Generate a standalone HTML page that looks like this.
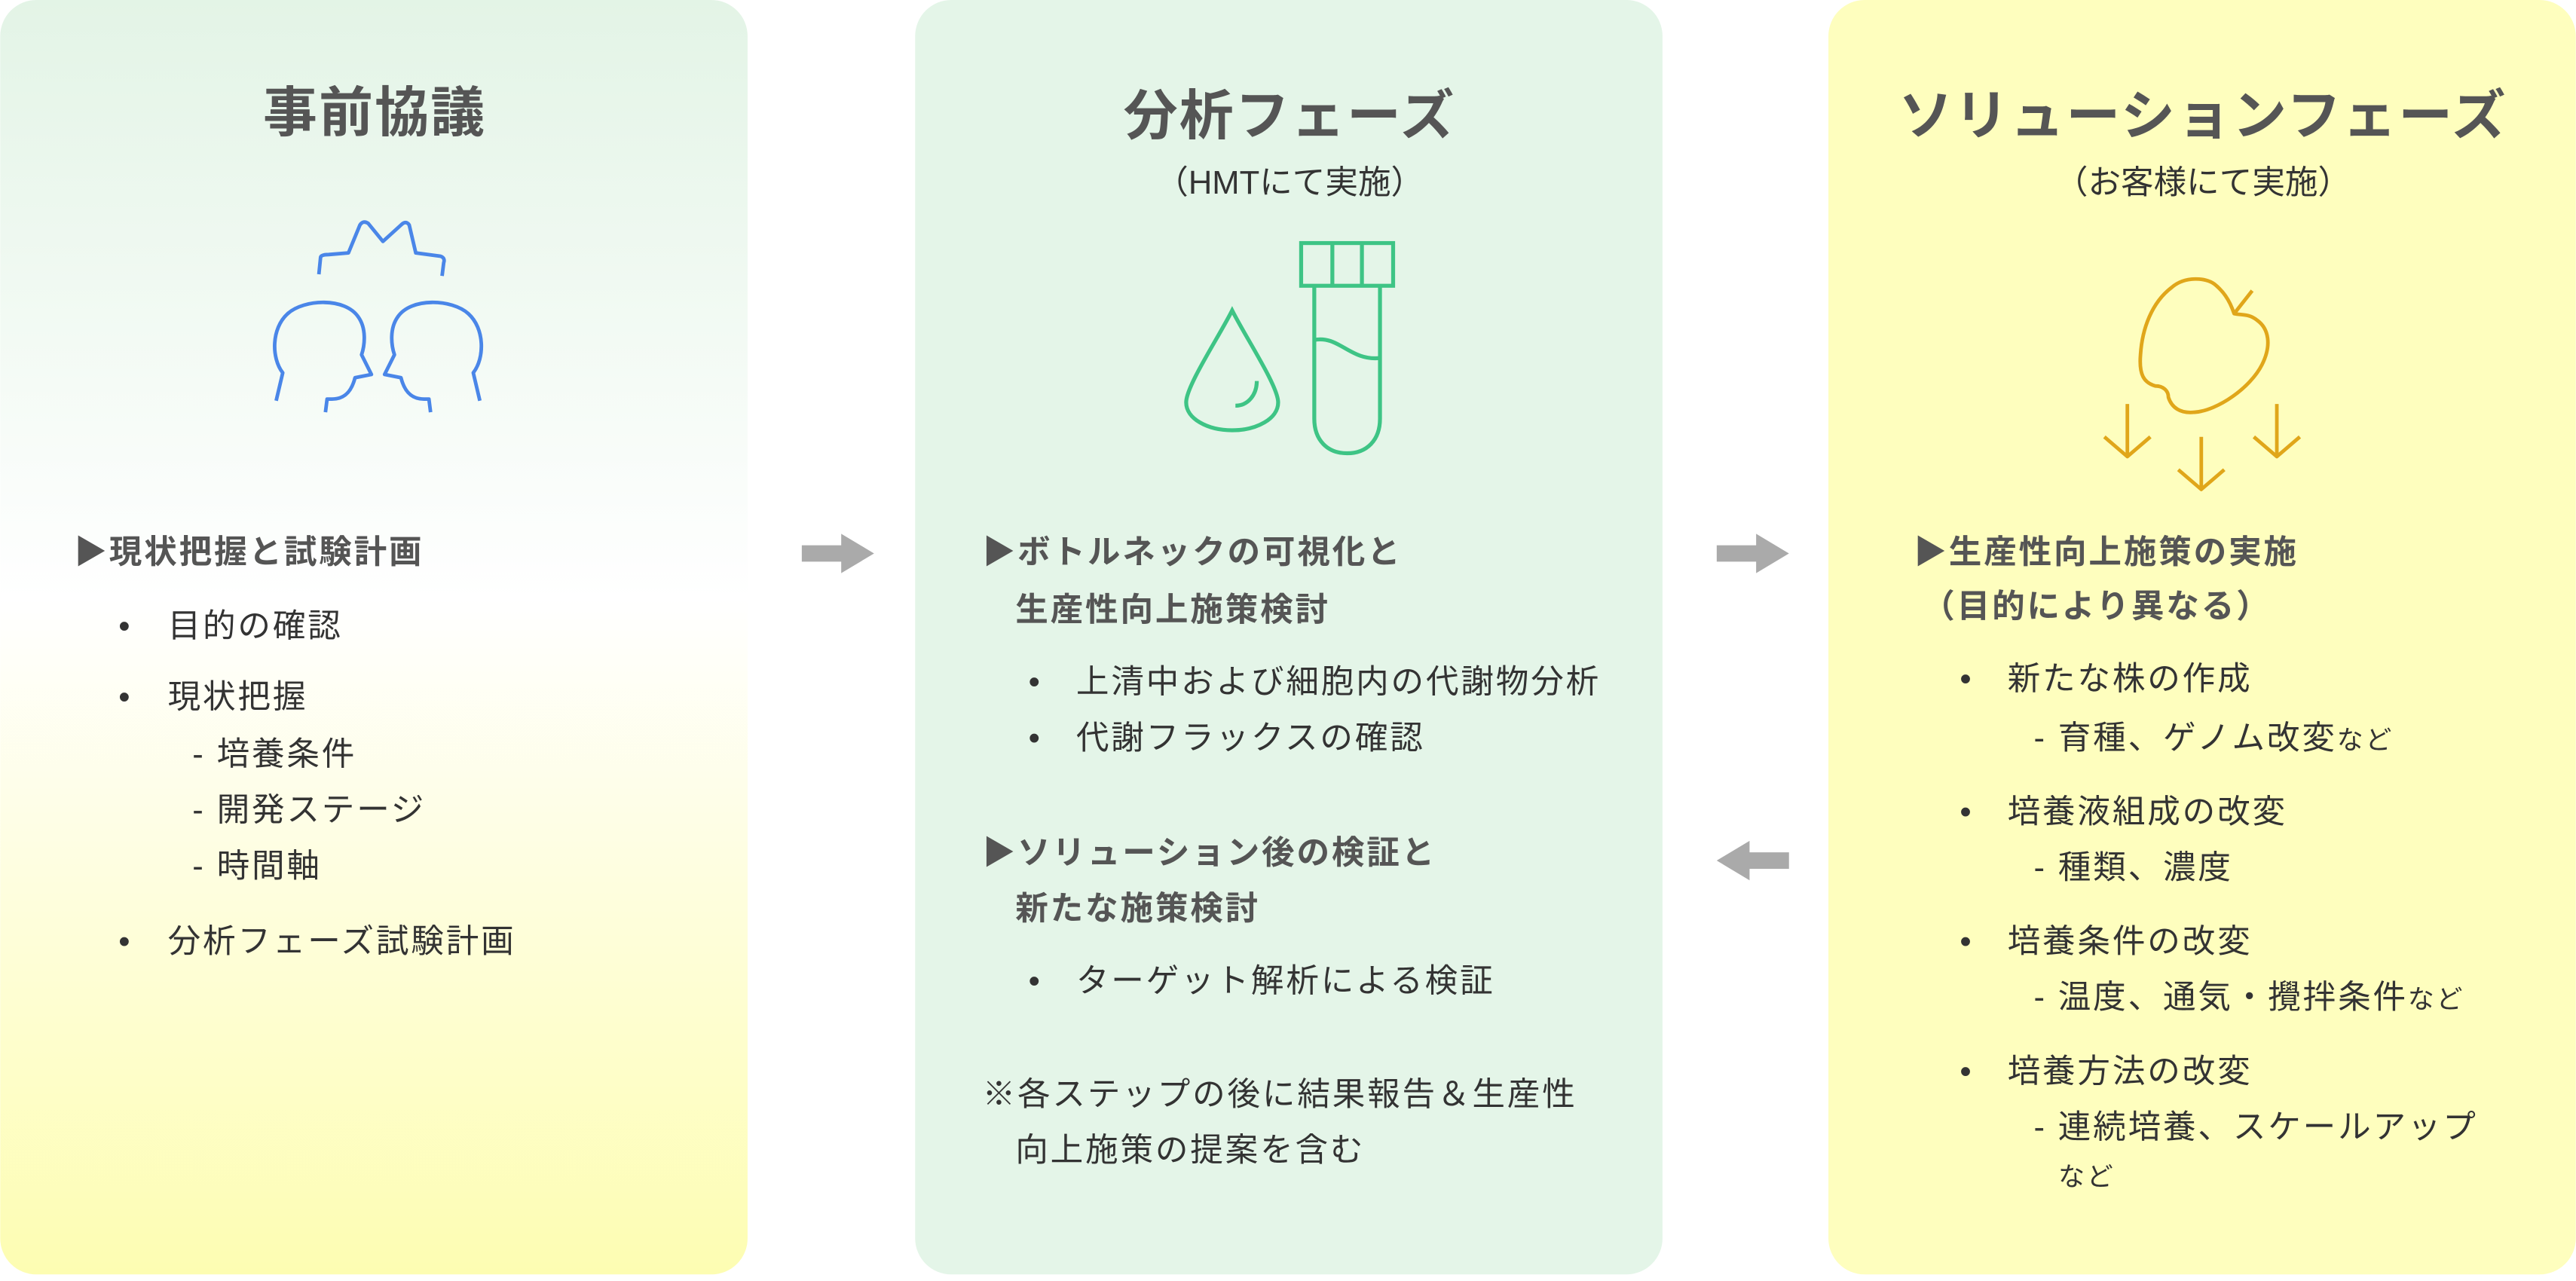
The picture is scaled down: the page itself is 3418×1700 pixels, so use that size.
<!DOCTYPE html>
<html><head><meta charset="utf-8"><style>
html,body{margin:0;padding:0;background:#fff;}
svg{display:block;}
text{font-family:"Liberation Sans","Noto Sans CJK JP",sans-serif;}
.t{font-size:33px;font-weight:bold;fill:#555;letter-spacing:1px;}
.s{font-size:20px;fill:#333;}
.h{font-size:20px;font-weight:bold;fill:#555;letter-spacing:1.3px;}
.b{font-size:20px;fill:#333;letter-spacing:1.3px;}
.sm{font-size:16px;}
</style></head><body>
<svg width="3418" height="1700" viewBox="0 0 1568 780" xmlns="http://www.w3.org/2000/svg">
<defs>
<linearGradient id="g1" x1="0" y1="0" x2="0" y2="1">
<stop offset="0" stop-color="#e3f4e6"/>
<stop offset="0.47" stop-color="#ffffff"/>
<stop offset="1" stop-color="#fdfdb2"/>
</linearGradient>
</defs>
<rect x="0" y="0" width="455" height="776" rx="22" fill="url(#g1)"/>
<rect x="557" y="0" width="455" height="776" rx="22" fill="#e4f5e8"/>
<rect x="1113" y="0" width="455" height="776" rx="22" fill="#fefebe"/>

<!-- titles -->
<text class="t" x="228" y="80" text-anchor="middle">事前協議</text>
<text class="t" x="785" y="82" text-anchor="middle">分析フェーズ</text>
<text class="s" x="785" y="118" text-anchor="middle">（HMTにて実施）</text>
<text class="t" x="1341" y="82" text-anchor="middle">ソリューションフェーズ</text>
<text class="s" x="1341" y="118" text-anchor="middle">（お客様にて実施）</text>

<!-- heads icon -->
<g fill="none" stroke="#4a86e8" stroke-width="2.2" stroke-linejoin="round">
<path d="M168,244 L172,227 C165,218 165,200 175,191 C185,182 210,181 218,193 C223,200 222,210 220,216 L226,228 L216,230 C214,238 210,243 202,243 L199,243 L198,251"/>
<path transform="translate(460,0) scale(-1,1)" d="M168,244 L172,227 C165,218 165,200 175,191 C185,182 210,181 218,193 C223,200 222,210 220,216 L226,228 L216,230 C214,238 210,243 202,243 L199,243 L198,251"/>
<path d="M194,167 L195,157 Q195,155 200,155 L212,154 L219,137 Q221,134 224,136 L233,147 L244,137 Q247,134 249,137 L253,154 L268,156 Q271,157 270,160 L269,168"/>
</g>

<!-- drop & tube -->
<g fill="none" stroke="#3ec485" stroke-width="2.4">
<path d="M750,189 C742,205 722,235 722,245 C722,255 735,262 750,262 C765,262 778,255 778,245 C778,235 758,205 750,189 Z"/>
<path d="M765,232 C765,240 760,247 752,247"/>
<rect x="792" y="148" width="56" height="26"/>
<line x1="811" y1="148" x2="811" y2="174"/>
<line x1="829" y1="148" x2="829" y2="174"/>
<path d="M800,174 L800,255 C800,268 808,276 820,276 C832,276 840,268 840,255 L840,174"/>
<path d="M800,207 C815,204 822,220 840,218"/>
</g>

<!-- apple -->
<g fill="none" stroke="#e0a61a" stroke-width="2.2" stroke-linejoin="round">
<path d="M1360,191 C1357,182 1353,177 1348,173 C1343,169 1330,168 1322,175 C1310,184 1304,200 1303,216 C1302,228 1305,233 1312,235 C1317,235 1320,238 1320,242 C1322,248 1327,252 1336,251 C1350,250 1370,236 1377,222 C1383,210 1381,200 1374,195 C1369,191 1365,192 1360,191 Z"/>
<line x1="1360" y1="191" x2="1371" y2="177"/>
<path d="M1295,246 L1295,278 M1281,266 L1295,278 L1309,266"/>
<path d="M1340,266 L1340,298 M1326,286 L1340,298 L1354,286"/>
<path d="M1386,246 L1386,278 M1372,266 L1386,278 L1400,266"/>
</g>

<!-- gray arrows -->
<g fill="#aaaaaa">
<path d="M488,332 L512,332 L512,325 L532,337 L512,349 L512,342 L488,342 Z"/>
<path d="M1045,332 L1069,332 L1069,325 L1089,337 L1069,349 L1069,342 L1045,342 Z"/>
<path d="M1089,519 L1065,519 L1065,512 L1045,524 L1065,536 L1065,529 L1089,529 Z"/>
</g>

<!-- panel 1 text -->
<text class="h" x="45" y="343">▶現状把握と試験計画</text>
<text class="b" x="72" y="388">•</text><text class="b" x="102" y="388">目的の確認</text>
<text class="b" x="72" y="431">•</text><text class="b" x="102" y="431">現状把握</text>
<text class="b" x="117" y="466">- 培養条件</text>
<text class="b" x="117" y="500">- 開発ステージ</text>
<text class="b" x="117" y="534">- 時間軸</text>
<text class="b" x="72" y="580">•</text><text class="b" x="102" y="580">分析フェーズ試験計画</text>

<!-- panel 2 text -->
<text class="h" x="598" y="343">▶ボトルネックの可視化と</text>
<text class="h" x="618" y="378">生産性向上施策検討</text>
<text class="b" x="626" y="422">•</text><text class="b" x="655" y="422">上清中および細胞内の代謝物分析</text>
<text class="b" x="626" y="456">•</text><text class="b" x="655" y="456">代謝フラックスの確認</text>
<text class="h" x="598" y="526">▶ソリューション後の検証と</text>
<text class="h" x="618" y="560">新たな施策検討</text>
<text class="b" x="626" y="604">•</text><text class="b" x="655" y="604">ターゲット解析による検証</text>
<text class="b" x="598" y="673">※各ステップの後に結果報告＆生産性</text>
<text class="b" x="618" y="707">向上施策の提案を含む</text>

<!-- panel 3 text -->
<text class="h" x="1165" y="343">▶生産性向上施策の実施</text>
<text class="h" x="1170" y="376">（目的により異なる）</text>
<text class="b" x="1193" y="420">•</text><text class="b" x="1222" y="420">新たな株の作成</text>
<text class="b" x="1238" y="456">- 育種、ゲノム改変<tspan class="sm">など</tspan></text>
<text class="b" x="1193" y="501">•</text><text class="b" x="1222" y="501">培養液組成の改変</text>
<text class="b" x="1238" y="535">- 種類、濃度</text>
<text class="b" x="1193" y="580">•</text><text class="b" x="1222" y="580">培養条件の改変</text>
<text class="b" x="1238" y="614">- 温度、通気・攪拌条件<tspan class="sm">など</tspan></text>
<text class="b" x="1193" y="659">•</text><text class="b" x="1222" y="659">培養方法の改変</text>
<text class="b" x="1238" y="693">- 連続培養、スケールアップ</text>
<text class="b sm" x="1253" y="722">など</text>
</svg>
</body></html>
